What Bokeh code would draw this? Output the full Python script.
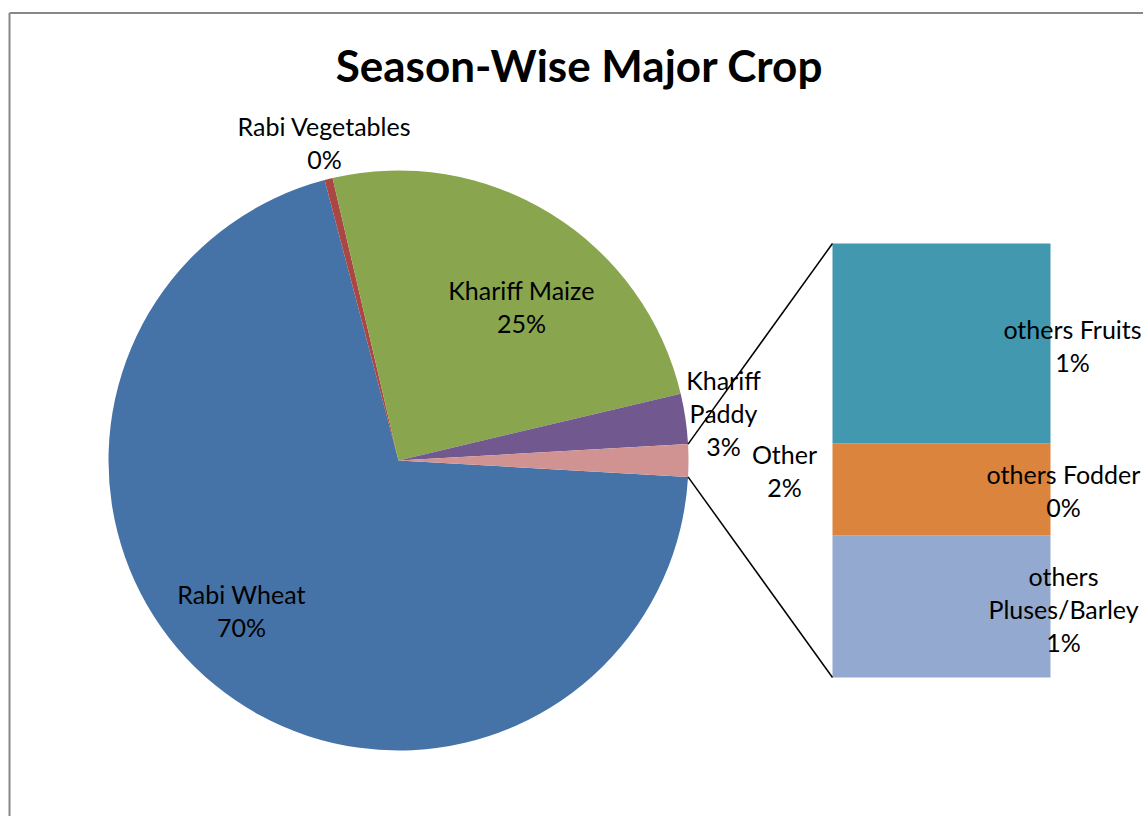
import numpy as np
from bokeh.plotting import figure
from bokeh.models import Range1d, ColumnDataSource
from bokeh.core.properties import value
from bokeh.embed import file_html
from bokeh.resources import INLINE

# ---- data ----
categories = ["Rabi Wheat", "Rabi Vegetables", "Khariff Maize", "Khariff Paddy", "Other"]
values = [70.0, 0.45, 24.95, 2.8]
other_categories = ["others Pluses/Barley", "others Fodder", "others Fruits"]  # bottom -> top
other_values = [0.59, 0.38, 0.83]
title_text = "Season-Wise Major Crop"

pie_colors = ["#4572A7", "#AA4643", "#89A54E", "#71588F", "#D19392"]
bar_colors = ["#93A9CF", "#DB843D", "#4198AF"]

all_values = np.array(values + [sum(other_values)])
total = all_values.sum()

# ---- geometry (pixel-like data space; y = 816 - screen y) ----
W, H = 1143, 816
FONT = "Lato"
cx, cy, R = 398, 356, 290
bar_left, bar_right, bar_bottom, bar_top = 832, 1050, 139, 573

p = figure(width=W, height=H, output_backend="svg", toolbar_location=None,
           x_range=Range1d(0, W), y_range=Range1d(0, H),
           min_border=0, outline_line_color=None)
p.axis.visible = False
p.grid.visible = False
p.background_fill_color = "white"

# chart border (left and top visible)
p.segment(x0=[9, 9], y0=[803.5, 803.5], x1=[9, W], y1=[0, 803.5],
          line_color="#888888", line_width=2)

# pie wedges: anticlockwise from the "Other" slice (centered at angle 0)
theta = all_values / total * 2 * np.pi
order = list(range(len(all_values)))[::-1]  # Other, Paddy, Maize, Veg, Wheat
th_o = theta[-1]
ends_r = -th_o / 2 + np.cumsum(theta[order])
starts_r = ends_r - theta[order]
starts = np.empty_like(theta)
ends = np.empty_like(theta)
for k, i in enumerate(order):
    starts[i] = starts_r[k]
    ends[i] = ends_r[k]

pie_src = ColumnDataSource(dict(start=starts, end=ends, color=pie_colors,
                                name=categories))
p.wedge(x=cx, y=cy, radius=R, start_angle="start", end_angle="end",
        fill_color="color", line_color=None, source=pie_src)

# stacked bar for "Other"
ov = np.array(other_values)
scale = (bar_top - bar_bottom) / ov.sum()
tops = bar_bottom + np.cumsum(ov) * scale
bottoms = tops - ov * scale
p.quad(left=bar_left, right=bar_right, bottom=bottoms, top=tops,
       fill_color=bar_colors, line_color=None)

# connector lines
a1, a2 = th_o / 2, -th_o / 2
p.segment(x0=[cx + R * np.cos(a1), cx + R * np.cos(a2)],
          y0=[cy + R * np.sin(a1), cy + R * np.sin(a2)],
          x1=[bar_left, bar_left], y1=[bar_top, bar_bottom],
          line_color="black", line_width=1.5)

# labels
def pct(v, t):
    return f"{int(round(v / t * 100))}%"

LABEL_SIZE = "25px"
LINE_H = 1.1

pie_label_text = [
    f"Rabi Wheat\n{pct(values[0], total)}",
    f"Rabi Vegetables\n{pct(values[1], total)}",
    f"Khariff Maize\n{pct(values[2], total)}",
    f"Khariff\nPaddy\n{pct(values[3], total)}",
    f"Other\n{pct(all_values[4], total)}",
]
pie_label_x = [241, 324, 521, 723, 784]
pie_label_y = [206, 674, 510, 404, 346]
p.text(x=pie_label_x, y=pie_label_y, text=pie_label_text,
       text_font=value(FONT), text_font_size=LABEL_SIZE, text_color="black",
       text_align="center", text_baseline="middle", text_line_height=LINE_H)

bar_label_text = [
    f"others\nPluses/Barley\n{pct(other_values[0], total)}",
    f"others Fodder\n{pct(other_values[1], total)}",
    f"others Fruits\n{pct(other_values[2], total)}",
]
bar_label_x = [1063, 1063, 1072]
bar_label_y = [208, 326, 471]
p.text(x=bar_label_x, y=bar_label_y, text=bar_label_text,
       text_font=value(FONT), text_font_size=LABEL_SIZE, text_color="black",
       text_align="center", text_baseline="middle", text_line_height=LINE_H)

# title
p.text(x=[579], y=[752], text=[title_text], text_font=value(FONT),
       text_font_size="44px", text_font_style="bold", text_color="black",
       text_align="center", text_baseline="middle")

open("out.html", "w").write(file_html(p, INLINE))
